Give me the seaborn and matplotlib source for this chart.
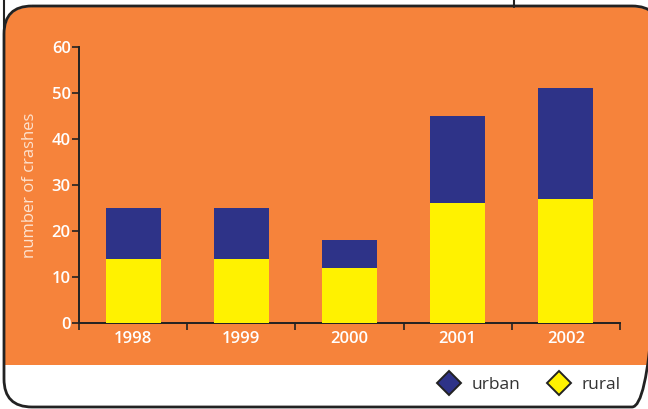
import matplotlib
matplotlib.use("Agg")
import matplotlib.pyplot as plt
from matplotlib.patches import FancyBboxPatch, Rectangle
from matplotlib.lines import Line2D
from matplotlib.transforms import Affine2D
import seaborn as sns
import pandas as pd

years = ["1998", "1999", "2000", "2001", "2002"]
rural = [14, 14, 12, 26, 27]
urban = [11, 11, 6, 19, 24]
y_ticks = [0, 10, 20, 30, 40, 50, 60]

ORANGE = "#F6833B"
NAVY = "#2E3388"
YELLOW = "#FFF200"

W, H = 648, 409

df = pd.DataFrame({"year": years, "rural": rural, "urban": urban})
df["total"] = df["rural"] + df["urban"]

sns.set_theme(style="white")
plt.rcParams["font.family"] = ["Open Sans", "DejaVu Sans"]

fig = plt.figure(figsize=(W / 100, H / 100), dpi=100)
fig.patch.set_facecolor("white")

def fx(px):
    return px / W

def fy(py):
    return 1 - py / H

# pixel coords with top-left origin
pix = Affine2D().scale(1, -1).translate(0, H)

# panel: orange top, white strip for legend, dark rounded border
orange = FancyBboxPatch((5, 7), 654, 399, boxstyle="round,pad=0,rounding_size=27",
                        transform=pix, facecolor=ORANGE, edgecolor="none", zorder=-10)
fig.patches.append(orange)
white_low = Rectangle((0, 365), W + 20, 60, facecolor="white", edgecolor="none",
                      transform=pix, zorder=-9)
fig.patches.append(white_low)
border = FancyBboxPatch((4, 6), 656, 401, boxstyle="round,pad=0,rounding_size=28",
                        transform=pix, facecolor="none", edgecolor="#222222", lw=2, zorder=-8)
fig.patches.append(border)
# bits of the page frame above the panel
fig.add_artist(Line2D([fx(514), fx(514)], [fy(0), fy(7)], color="#222222", lw=1.5, zorder=-8))
fig.add_artist(Line2D([fx(4), fx(4)], [fy(0), fy(30)], color="#222222", lw=1.5, zorder=-8))

ax = fig.add_axes([fx(79), fy(323), fx(620) - fx(79), (323 - 47) / H])
ax.set_facecolor("none")
sns.barplot(data=df, x="year", y="total", color=NAVY, width=0.51, saturation=1, ax=ax, zorder=2)
sns.barplot(data=df, x="year", y="rural", color=YELLOW, width=0.51, saturation=1, ax=ax, zorder=3)
for p in ax.patches:
    p.set_edgecolor("none")

tick_font = dict(color="white", fontsize=12, fontweight="semibold")
ax.set_xlim(-0.5, 4.5)
ax.set_ylim(0, 60)
ax.set_yticks(y_ticks)
ax.set_yticklabels([str(t) for t in y_ticks], **tick_font)
ax.set_xticks(range(len(years)))
ax.set_xticklabels(years, **tick_font)
ax.set_xticks([i - 0.5 for i in range(len(years) + 1)], minor=True)
ax.tick_params(axis="x", which="major", length=0, pad=6)
ax.tick_params(axis="x", which="minor", length=5, width=1.2, color="#222222", direction="out", bottom=True)
ax.tick_params(axis="y", length=5, width=1.2, color="#222222", direction="out", left=True, pad=1)
for s in ["top", "right"]:
    ax.spines[s].set_visible(False)
for s in ["left", "bottom"]:
    ax.spines[s].set_color("#222222")
    ax.spines[s].set_linewidth(1.4)
ax.set_xlabel("")
ax.set_ylabel("number of crashes", color="#FDE3D0", fontsize=12, labelpad=10)

handles = [Line2D([], [], marker="D", ls="none", markersize=12, markerfacecolor=NAVY,
                  markeredgecolor="#222222", markeredgewidth=1.4, label="urban"),
           Line2D([], [], marker="D", ls="none", markersize=12, markerfacecolor=YELLOW,
                  markeredgecolor="#222222", markeredgewidth=1.4, label="rural")]
fig.legend(handles=handles, loc="center", bbox_to_anchor=(fx(528), fy(385)), ncol=2,
           frameon=False, prop=dict(size=12.5, weight="medium"), handletextpad=0.5,
           handlelength=1.6, columnspacing=1.4, labelcolor="#333333")

fig.savefig("out.png", dpi=100)
